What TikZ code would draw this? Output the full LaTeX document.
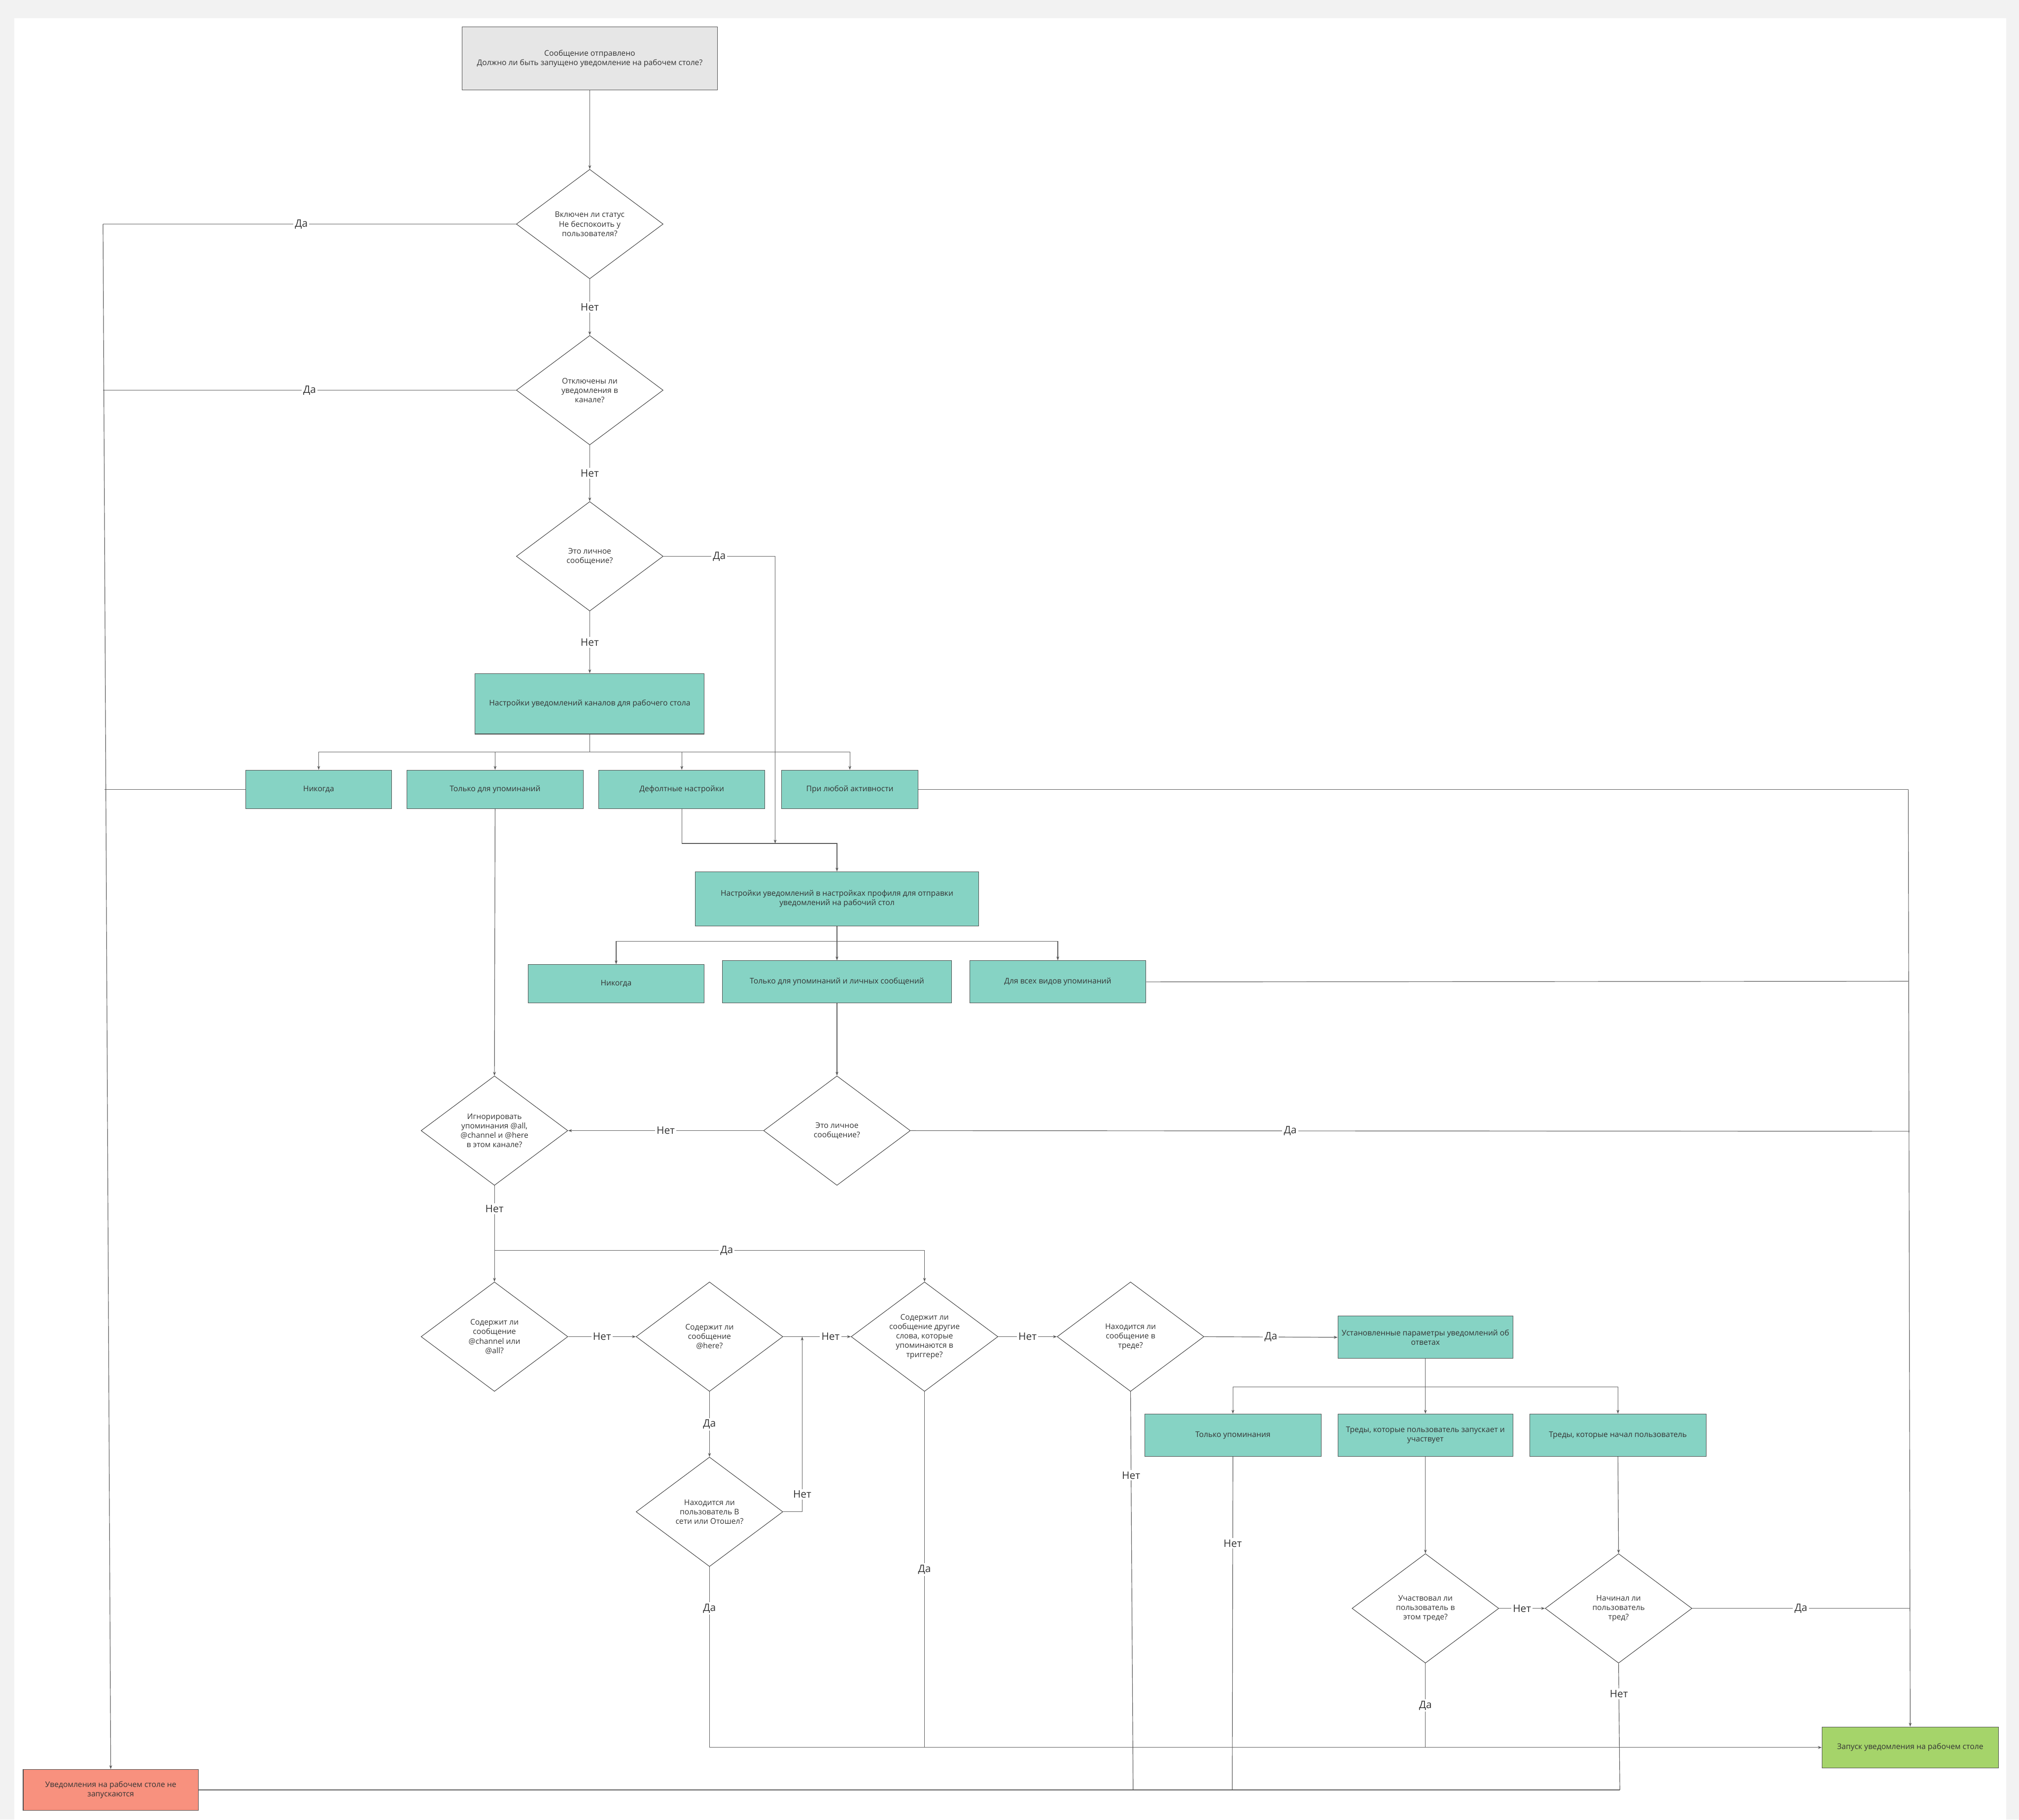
\documentclass[tikz,border=0pt]{standalone}
\usepackage{fontspec}
\setmainfont{Open Sans}
\usepackage{tikz}
\usetikzlibrary{positioning, arrows.meta, shapes.geometric, calc}

\definecolor{tealbg}{HTML}{86D3C4}
\definecolor{startbg}{HTML}{E6E6E6}
\definecolor{offbg}{HTML}{F8917E}
\definecolor{onbg}{HTML}{A5D46A}
\definecolor{linegray}{HTML}{5A5A5A}
\definecolor{textgray}{HTML}{333333}

\newcommand{\nodefont}{\fontsize{6}{7.3}\selectfont}
\newcommand{\lblfont}{\fontsize{8}{9.6}\selectfont}

\begin{document}
\begin{tikzpicture}[x=1pt, y=-1pt,
  every node/.style={text=textgray},
  box/.style={draw=black!70, fill=tealbg, align=center, font=\nodefont, inner sep=1pt},
  decision/.style={diamond, draw=black!75, fill=white, minimum width=114pt, minimum height=85pt,
    aspect=1.34, inner sep=0pt, align=center, font=\nodefont},
  conn/.style={draw=linegray, line width=0.45pt},
  arr/.style={conn, -{Stealth[length=3pt, width=2.2pt]}},
  lbl/.style={fill=white, font=\lblfont, inner sep=1.2pt}]

  %% Canvas
  \fill[black!5] (0,0) rectangle (1568,1413);
  \fill[white] (11,14) rectangle (1558,1413);

  %% Start and first checks
  \node[box, fill=startbg, minimum width=198pt, minimum height=49pt] (start) at (458,45.5)
    {Сообщение отправлено\\Должно ли быть запущено уведомление на рабочем столе?};
  \node[decision] (dnd) at (458,174) {Включен ли статус\\Не беспокоить у\\пользователя?};
  \node[decision] (dmute) at (458,303) {Отключены ли\\уведомления в\\канале?};
  \node[decision] (ddm) at (458,432) {Это личное\\сообщение?};

  %% Channel settings
  \node[box, minimum width=178pt, minimum height=47pt] (chset) at (458,546.5)
    {Настройки уведомлений каналов для рабочего стола};
  \node[box, minimum width=113pt, minimum height=30pt] (chnever) at (247.5,613) {Никогда};
  \node[box, minimum width=137pt, minimum height=30pt] (chment) at (384.5,613) {Только для упоминаний};
  \node[box, minimum width=129pt, minimum height=30pt] (chdef) at (529.5,613) {Дефолтные настройки};
  \node[box, minimum width=106pt, minimum height=30pt] (chall) at (660,613) {При любой активности};

  %% Profile settings
  \node[box, minimum width=220pt, minimum height=42pt] (prof) at (650,698)
    {Настройки уведомлений в настройках профиля для отправки\\уведомлений на рабочий стол};
  \node[box, minimum width=137pt, minimum height=30pt] (prnever) at (478.5,764) {Никогда};
  \node[box, minimum width=178pt, minimum height=33pt] (prment) at (650,762.5)
    {Только для упоминаний и личных сообщений};
  \node[box, minimum width=137pt, minimum height=33pt] (prall) at (821.5,762.5) {Для всех видов упоминаний};

  %% Mentions
  \node[decision] (dign) at (384,878) {Игнорировать\\упоминания @all,\\@channel и @here\\в этом канале?};
  \node[decision] (ddmtwo) at (650,878) {Это личное\\сообщение?};
  \node[decision] (dchan) at (384,1038) {Содержит ли\\сообщение\\@channel или\\@all?};
  \node[decision] (dhere) at (551,1038) {Содержит ли\\сообщение\\@here?};
  \node[decision] (dkw) at (718,1038) {Содержит ли\\сообщение другие\\слова, которые\\упоминаются в\\триггере?};
  \node[decision] (dthr) at (878,1038) {Находится ли\\сообщение в\\треде?};
  \node[decision] (donline) at (551,1174) {Находится ли\\пользователь В\\сети или Отошел?};

  %% Threads
  \node[box, minimum width=136pt, minimum height=33pt] (thset) at (1107,1038.5)
    {Установленные параметры уведомлений об\\ответах};
  \node[box, minimum width=137pt, minimum height=33pt] (thment) at (957.5,1114.5) {Только упоминания};
  \node[box, minimum width=136pt, minimum height=33pt] (thpart) at (1107,1114.5)
    {Треды, которые пользователь запускает и\\участвует};
  \node[box, minimum width=137pt, minimum height=33pt] (thstart) at (1256.5,1114.5)
    {Треды, которые начал пользователь};
  \node[decision] (dpart) at (1107,1249) {Участвовал ли\\пользователь в\\этом треде?};
  \node[decision] (dstart) at (1257,1249) {Начинал ли\\пользователь\\тред?};

  %% Outcomes
  \node[box, fill=offbg, minimum width=136pt, minimum height=32pt] (offbox) at (86,1390)
    {Уведомления на рабочем столе не\\запускаются};
  \node[box, fill=onbg, minimum width=137pt, minimum height=32pt] (onbox) at (1483.5,1357)
    {Запуск уведомления на рабочем столе};

  %% Rails and joints
  \coordinate (lrail) at (80,174);
  \coordinate (rrail) at (1482,613);
  \coordinate (jprof) at (602,655);
  \coordinate (jch) at (458,584);
  \coordinate (jpr) at (650,731);
  \coordinate (jign) at (384,971);
  \coordinate (jhere) at (623,1038);
  \coordinate (jth) at (1107,1077);
  \coordinate (jon) at (1107,1357);
  \coordinate (joff) at (1258,1390);

  %% Top chain
  \draw[arr] (start) -- (dnd);
  \draw[arr] (dnd) -- (dmute) node[lbl, midway] {Нет};
  \draw[arr] (dmute) -- (ddm) node[lbl, midway] {Нет};
  \draw[arr] (ddm) -- (chset) node[lbl, midway] {Нет};
  \draw[conn] (dnd.west) -- (lrail) node[lbl, pos=0.52] {Да};
  \draw[conn] (dmute.west) -- (80,303) node[lbl, midway] {Да};
  \draw[conn] (chnever.west) -- (81,613);
  \draw[arr] (lrail) -- (offbox.north);

  %% Channel settings branches
  \draw[conn] (chset.south) -- (jch);
  \foreach \n in {chnever, chment, chdef, chall}
    \draw[arr] (jch) -| (\n.north);
  \draw[arr] (ddm.east) -| (jprof) node[lbl, pos=0.25] {Да};
  \draw[conn] (chdef.south) |- (jprof);
  \draw[arr] (jprof) -| (prof.north);
  \draw[conn] (chall.east) -- (rrail);
  \draw[arr] (rrail) -- (onbox.north);

  %% Profile settings branches
  \draw[conn] (prof.south) -- (jpr);
  \foreach \n in {prnever, prment, prall}
    \draw[arr] (jpr) -| (\n.north);
  \draw[conn] (prall.east) -- (1482,762);
  \draw[arr] (chment.south) -- (dign.north);
  \draw[arr] (prment.south) -- (ddmtwo.north);
  \draw[arr] (ddmtwo.west) -- (dign.east) node[lbl, midway] {Нет};
  \draw[conn] (ddmtwo.east) -- (1483,878.5) node[lbl, pos=0.38] {Да};

  %% Mention checks
  \draw[arr] (dign.south) -- (dchan.north) node[lbl, pos=0.24] {Нет};
  \draw[arr] (jign) -| (dkw.north) node[lbl, pos=0.27] {Да};
  \draw[arr] (dchan.east) -- (dhere.west) node[lbl, midway] {Нет};
  \draw[arr] (dhere.east) -- (dkw.west) node[lbl, pos=0.7] {Нет};
  \draw[arr] (dkw.east) -- (dthr.west) node[lbl, midway] {Нет};
  \draw[arr] (dthr.east) -- (thset.west) node[lbl, midway] {Да};
  \draw[arr] (dhere.south) -- (donline.north) node[lbl, midway] {Да};
  \draw[arr] (donline.east) -| (jhere) node[lbl, pos=0.55] {Нет};
  \draw[arr] (donline.south) |- (onbox.west) node[lbl, pos=0.115] {Да};
  \draw[conn] (dkw.south) -- (718,1357) node[lbl, midway] {Да};
  \draw[conn] (dthr.south) -- (880,1390) node[lbl, pos=0.21] {Нет};

  %% Thread checks
  \draw[conn] (thset.south) -- (jth);
  \foreach \n in {thment, thpart, thstart}
    \draw[arr] (jth) -| (\n.north);
  \draw[arr] (thpart.south) -- (dpart.north);
  \draw[arr] (thstart.south) -- (dstart.north);
  \draw[arr] (dpart.east) -- (dstart.west) node[lbl, midway] {Нет};
  \draw[conn] (dstart.east) -- (1483,1249) node[lbl, midway] {Да};
  \draw[conn] (dpart.south) -- (jon) node[lbl, midway] {Да};
  \draw[conn] (thment.south) -- (957,1390) node[lbl, pos=0.26] {Нет};
  \draw[conn] (dstart.south) -- (joff) node[lbl, pos=0.24] {Нет};
  \draw[conn] (joff) -- (offbox.east);
\end{tikzpicture}
\end{document}
